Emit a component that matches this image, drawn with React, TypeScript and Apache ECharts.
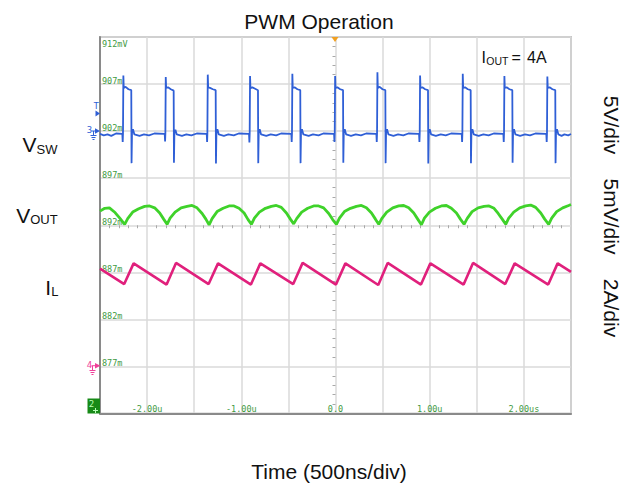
import React, { useEffect, useRef } from "react";
import * as echarts from "echarts";

// Time axis in ns (500 ns/div), vertical axis in screen divisions (0..8)
const xTickValues = [-2000, -1000, 0, 1000, 2000];
const xTickLabels = ["-2.00u", "-1.00u", "0.0", "1.00u", "2.00us"];
const yTickLabels = ["", "877m", "882m", "887m", "892m", "897m", "902m", "907m", "912mV"];

const vswPoints: number[][] = [
  [-2500, 5.94], [-2460, 5.91], [-2420, 5.93], [-2380, 5.90], [-2330, 5.95],
  [-2263, 5.94], [-2259, 5.77], [-2256, 5.95], [-2252, 7.18], [-2248, 6.92], [-2228, 6.94], [-2198, 6.89], [-2168, 6.87], [-2165, 5.32], [-2160, 5.99], [-2150, 6.04], [-2135, 5.93], [-2080, 5.90], [-2033, 5.93], [-1980, 5.91], [-1923, 5.95],
  [-1813, 5.94], [-1809, 5.78], [-1806, 5.95], [-1802, 7.15], [-1798, 6.92], [-1778, 6.93], [-1748, 6.89], [-1718, 6.86], [-1715, 5.33], [-1710, 5.98], [-1700, 6.03], [-1685, 5.93], [-1630, 5.90], [-1583, 5.93], [-1530, 5.91], [-1473, 5.95],
  [-1367, 5.94], [-1363, 5.77], [-1360, 5.95], [-1356, 7.20], [-1352, 6.93], [-1332, 6.92], [-1302, 6.89], [-1272, 6.87], [-1269, 5.31], [-1264, 5.99], [-1254, 6.04], [-1239, 5.93], [-1185, 5.90], [-1137, 5.93], [-1080, 5.91], [-1027, 5.95],
  [-918, 5.94], [-914, 5.76], [-911, 5.95], [-907, 7.17], [-903, 6.91], [-883, 6.93], [-853, 6.90], [-823, 6.87], [-820, 5.32], [-815, 5.99], [-805, 6.04], [-790, 5.93], [-735, 5.90], [-688, 5.93], [-630, 5.91], [-578, 5.95],
  [-469, 5.94], [-465, 5.77], [-462, 5.95], [-458, 7.22], [-454, 6.92], [-434, 6.93], [-404, 6.89], [-374, 6.87], [-371, 5.32], [-366, 5.99], [-356, 6.04], [-341, 5.93], [-285, 5.90], [-239, 5.93], [-180, 5.91], [-129, 5.95],
  [-15, 5.94], [-11, 5.77], [-8, 5.95], [-4, 7.17], [0, 6.92], [20, 6.93], [50, 6.89], [80, 6.87], [83, 5.33], [88, 5.99], [98, 6.04], [113, 5.93], [165, 5.90], [215, 5.93], [270, 5.91], [325, 5.95],
  [434, 5.94], [438, 5.77], [441, 5.95], [445, 7.25], [449, 6.92], [469, 6.94], [499, 6.89], [529, 6.87], [532, 5.32], [537, 5.99], [547, 6.04], [562, 5.93], [615, 5.90], [664, 5.93], [720, 5.91], [774, 5.95],
  [887, 5.94], [891, 5.77], [894, 5.95], [898, 7.18], [902, 6.92], [922, 6.93], [952, 6.89], [982, 6.87], [985, 5.31], [990, 5.99], [1000, 6.04], [1015, 5.93], [1065, 5.90], [1117, 5.93], [1170, 5.91], [1227, 5.95],
  [1340, 5.94], [1344, 5.77], [1347, 5.95], [1351, 7.22], [1355, 6.92], [1375, 6.93], [1405, 6.89], [1435, 6.87], [1438, 5.32], [1443, 5.99], [1453, 6.04], [1468, 5.93], [1520, 5.90], [1570, 5.93], [1625, 5.91], [1680, 5.95],
  [1782, 5.94], [1786, 5.77], [1789, 5.95], [1793, 7.17], [1797, 6.92], [1817, 6.93], [1847, 6.89], [1877, 6.87], [1880, 5.33], [1885, 5.99], [1895, 6.04], [1910, 5.93], [1960, 5.90], [2012, 5.93], [2065, 5.91], [2122, 5.95],
  [2238, 5.94], [2242, 5.77], [2245, 5.95], [2249, 7.16], [2253, 6.92], [2273, 6.93], [2303, 6.89], [2333, 6.87], [2336, 5.32], [2341, 5.99], [2351, 6.04], [2366, 5.93], [2400, 5.90], [2430, 5.93], [2470, 5.91], [2500, 5.94],
];

const voutPoints: number[][] = [
  [-2500, 4.30], [-2450, 4.36], [-2400, 4.37], [-2340, 4.27], [-2290, 4.15], [-2238, 4.02],
  [-2206, 4.14], [-2153, 4.28], [-2089, 4.35], [-2026, 4.40], [-1973, 4.41], [-1920, 4.37], [-1866, 4.26], [-1824, 4.13], [-1788, 4.02],
  [-1756, 4.15], [-1703, 4.28], [-1639, 4.37], [-1576, 4.40], [-1523, 4.42], [-1470, 4.37], [-1416, 4.25], [-1376, 4.13], [-1342, 4.01],
  [-1310, 4.14], [-1257, 4.29], [-1193, 4.36], [-1130, 4.41], [-1077, 4.41], [-1024, 4.36], [-970, 4.26], [-928, 4.12], [-893, 4.02],
  [-861, 4.15], [-808, 4.28], [-744, 4.36], [-681, 4.40], [-628, 4.42], [-575, 4.38], [-521, 4.26], [-479, 4.13], [-444, 4.03],
  [-412, 4.14], [-359, 4.28], [-295, 4.36], [-232, 4.41], [-179, 4.41], [-126, 4.37], [-72, 4.25], [-30, 4.12], [10, 4.02],
  [42, 4.15], [95, 4.29], [159, 4.36], [222, 4.40], [275, 4.42], [328, 4.37], [382, 4.26], [424, 4.13], [459, 4.02],
  [491, 4.14], [544, 4.28], [608, 4.37], [671, 4.41], [724, 4.42], [777, 4.37], [831, 4.26], [873, 4.13], [912, 4.01],
  [944, 4.15], [997, 4.28], [1061, 4.36], [1124, 4.41], [1177, 4.42], [1230, 4.36], [1284, 4.26], [1326, 4.13], [1365, 4.02],
  [1397, 4.14], [1450, 4.29], [1514, 4.37], [1577, 4.40], [1630, 4.41], [1683, 4.36], [1727, 4.25], [1770, 4.13], [1807, 4.02],
  [1839, 4.15], [1892, 4.28], [1956, 4.37], [2019, 4.41], [2072, 4.43], [2125, 4.38], [2179, 4.26], [2221, 4.13], [2263, 4.02],
  [2295, 4.15], [2348, 4.29], [2412, 4.37], [2475, 4.42], [2500, 4.44],
];

const ilPoints: number[][] = [
  [-2500, 3.08], [-2243, 2.75], [-2143, 3.19], [-1793, 2.74], [-1693, 3.20], [-1347, 2.75], [-1247, 3.19],
  [-898, 2.74], [-798, 3.19], [-449, 2.75], [-349, 3.20], [5, 2.74], [105, 3.19], [454, 2.73], [554, 3.20],
  [907, 2.74], [1007, 3.19], [1360, 2.74], [1460, 3.20], [1802, 2.75], [1902, 3.19], [2258, 2.74], [2358, 3.19], [2500, 3.01],
];

const BLUE = "#2f5fd6";
const GREEN = "#3fd22a";
const PINK = "#e0207c";
const SCOPE_GREEN = "#3f9a3f";
const FONT = "'Liberation Sans', Arial, sans-serif";
const MONO = "'DejaVu Sans Mono', monospace";

function txt(text: string, x: number, y: number, size: number, extra: any = {}) {
  return {
    type: "text",
    x,
    y,
    rotation: extra.rotation || 0,
    silent: true,
    z: 100,
    style: {
      text,
      fontSize: size,
      fontFamily: extra.family || FONT,
      fill: extra.fill || "#111",
      align: extra.align || "center",
      verticalAlign: "middle",
    },
  };
}

function line(x1: number, y1: number, x2: number, y2: number, color: string, w = 1) {
  return { type: "line", silent: true, z: 100, shape: { x1, y1, x2, y2 }, style: { stroke: color, lineWidth: w } };
}

function tri(points: number[][], color: string) {
  return { type: "polygon", silent: true, z: 100, shape: { points }, style: { fill: color } };
}

export default function App() {
  const ref = useRef<HTMLDivElement>(null);
  useEffect(() => {
    if (!ref.current) return;
    const chart = echarts.init(ref.current, undefined, { renderer: "svg" });
    const gridTop = 37;
    const gridBottom = 73.5;
    const gridLeft = 100;
    const gridRight = 64;
    const gridH = 487 - gridTop - gridBottom;
    const gridW = 635 - gridLeft - gridRight;

    const graphics: any[] = [
      txt("PWM Operation", 319, 21, 21),
      txt("Time (500ns/div)", 329, 471.5, 21),
      // left channel labels
      txt("V", 36.5, 144.2, 21, { align: "right" }),
      txt("SW", 36.5, 149.7, 13, { align: "left" }),
      txt("V", 30.2, 215.5, 21, { align: "right" }),
      txt("OUT", 30.2, 219.5, 13, { align: "left" }),
      txt("I", 51.2, 287.5, 21, { align: "right" }),
      txt("L", 51.2, 291.3, 13, { align: "left" }),
      // right scale labels
      txt("5V/div", 611, 125, 21, { rotation: -Math.PI / 2 }),
      txt("5mV/div", 611, 216.5, 21, { rotation: -Math.PI / 2 }),
      txt("2A/div", 611, 308, 21, { rotation: -Math.PI / 2 }),
      // IOUT annotation
      txt("I", 481.5, 57, 16, { align: "left" }),
      txt("OUT", 486.3, 60.5, 10.5, { align: "left" }),
      txt("=", 511.5, 57, 16, { align: "left" }),
      txt("4A", 527, 57, 16, { align: "left" }),
      // top scale label
      txt(yTickLabels[8], 102, 44, 8.5, { align: "left", family: MONO, fill: SCOPE_GREEN }),
      // trigger marker (orange)
      tri([[331.5, 37], [338.5, 37], [335, 42]], "#f2a020"),
      // blue trigger "T"
      txt("T", 96.3, 105.5, 9, { fill: BLUE, family: MONO }),
      tri([[95.5, 110.5], [100, 113.5], [95.5, 116.5]], BLUE),
      // blue channel 3 ground marker
      txt("3", 89.5, 129.5, 9, { fill: BLUE, family: MONO }),
      line(91.5, 131, 96, 131, BLUE),
      tri([[95, 128.2], [100, 131], [95, 133.8]], BLUE),
      line(93.5, 131, 93.5, 135, BLUE),
      line(90.5, 135.5, 96.5, 135.5, BLUE),
      line(91.5, 137.5, 95.5, 137.5, BLUE),
      line(92.5, 139.5, 94.5, 139.5, BLUE),
      // pink channel 4 ground marker
      txt("4", 89.5, 365, 9, { fill: "#f0409a", family: MONO }),
      line(91.5, 365.7, 96, 365.7, "#f0409a"),
      tri([[95, 363], [100.5, 365.7], [95, 368.4]], "#f0409a"),
      line(92.5, 366, 92.5, 370, "#f0409a"),
      line(89.5, 370.5, 95.5, 370.5, "#f0409a"),
      line(90.5, 372.5, 94.5, 372.5, "#f0409a"),
      line(91.5, 374.5, 93.5, 374.5, "#f0409a"),
      // green channel 2 box
      { type: "rect", silent: true, z: 100, shape: { x: 87.5, y: 398.5, width: 12.5, height: 15 }, style: { fill: "#178a17" } },
      txt("2", 91.5, 403.5, 9, { fill: "#b8ffb8", family: MONO }),
      line(95.5, 408, 95.5, 413, "#b8ffb8"),
      line(93, 410.5, 98, 410.5, "#b8ffb8"),
    ];

    chart.setOption({
      animation: false,
      backgroundColor: "#ffffff",
      grid: {
        left: gridLeft,
        right: gridRight,
        top: gridTop,
        bottom: gridBottom,
        show: true,
        borderColor: "#9a9a9a",
        borderWidth: 1.5,
        backgroundColor: "#ffffff",
      },
      xAxis: [
        {
          type: "value",
          min: -2500,
          max: 2500,
          interval: 500,
          axisLine: { show: true, onZero: false, lineStyle: { color: "#8a8a8a", width: 2 } },
          axisTick: { show: false },
          splitLine: { show: true, lineStyle: { color: "#dadada", width: 1.5 } },
          axisLabel: {
            inside: true,
            margin: 0,
            fontSize: 8.5,
            fontFamily: MONO,
            color: SCOPE_GREEN,
            showMinLabel: false,
            showMaxLabel: false,
            formatter: (v: number) => {
              const i = xTickValues.indexOf(Math.round(v));
              return i >= 0 ? xTickLabels[i] : "";
            },
          },
        },
        {
          type: "value",
          min: -2500,
          max: 2500,
          interval: 500,
          position: "bottom",
          offset: -gridH / 2,
          axisLine: { show: false, onZero: false },
          axisTick: { show: false },
          axisLabel: { show: false },
          splitLine: { show: false },
          minorTick: { show: true, splitNumber: 5, length: 3, lineStyle: { color: "#a8a8a8", width: 1 } },
        },
      ],
      yAxis: [
        {
          type: "value",
          min: 0,
          max: 8,
          interval: 1,
          axisLine: { show: true, onZero: false, lineStyle: { color: "#8a8a8a", width: 2 } },
          axisTick: { show: false },
          splitLine: { show: true, lineStyle: { color: "#dadada", width: 1.5 } },
          axisLabel: {
            inside: true,
            margin: 2,
            fontSize: 8.5,
            lineHeight: 6,
            fontFamily: MONO,
            color: SCOPE_GREEN,
            verticalAlign: "bottom",
            formatter: (v: number) => {
              const i = Math.round(v);
              return i >= 1 && i <= 7 ? yTickLabels[i] : "";
            },
          },
        },
        {
          type: "value",
          min: 0,
          max: 8,
          interval: 1,
          position: "left",
          offset: -gridW / 2,
          axisLine: { show: false, onZero: false },
          axisTick: { show: false },
          axisLabel: { show: false },
          splitLine: { show: false },
          minorTick: { show: true, splitNumber: 5, length: 3, lineStyle: { color: "#a8a8a8", width: 1 } },
        },
      ],
      series: [
        {
          name: "VSW",
          type: "line",
          xAxisIndex: 0,
          yAxisIndex: 0,
          data: vswPoints,
          showSymbol: false,
          lineStyle: { color: BLUE, width: 1.8 },
          z: 5,
        },
        {
          name: "VOUT",
          type: "line",
          xAxisIndex: 0,
          yAxisIndex: 0,
          data: voutPoints,
          showSymbol: false,
          lineStyle: { color: GREEN, width: 2.8 },
          z: 4,
        },
        {
          name: "IL",
          type: "line",
          xAxisIndex: 0,
          yAxisIndex: 0,
          data: ilPoints,
          showSymbol: false,
          lineStyle: { color: PINK, width: 2.6 },
          z: 4,
        },
      ],
      graphic: graphics,
    });
    return () => chart.dispose();
  }, []);

  return (
    <div
      ref={ref}
      style={{ position: "fixed", left: 0, top: 0, width: 635, height: 487, background: "#fff" }}
    />
  );
}
